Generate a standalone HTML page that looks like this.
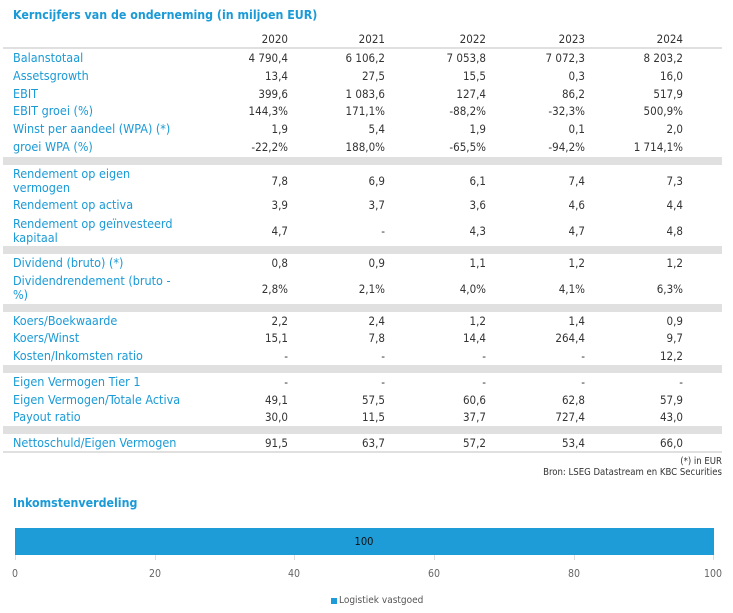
<!DOCTYPE html>
<html><head><meta charset="utf-8"><style>
body{margin:0;width:733px;height:613px;background:#fff;font-family:"DejaVu Sans Condensed","Liberation Sans Narrow","Liberation Sans",sans-serif;position:relative;overflow:hidden}
div{position:absolute;white-space:nowrap}
.t{color:#1a9ad6;font-weight:bold;font-size:12.3px}
.l{left:13px;color:#1a9ad6;font-size:12.5px;line-height:14px}
.v{color:#333;font-size:11.5px;text-align:right;width:90px}
.band{left:3px;width:719px;background:#e0e0e0}
.ax{color:#666;font-size:10.5px;width:40px;text-align:center;top:568px}
.g{top:528px;width:1px;height:32px;background:#ddd}
</style></head><body>
<div class="t" style="left:13px;top:8px">Kerncijfers van de onderneming (in miljoen EUR)</div>
<div class="v" style="left:198px;top:32px">2020</div><div class="v" style="left:295px;top:32px">2021</div><div class="v" style="left:396px;top:32px">2022</div><div class="v" style="left:495px;top:32px">2023</div><div class="v" style="left:593px;top:32px">2024</div>
<div class="band" style="top:47px;height:2px"></div>
<div class="l" style="top:51px">Balanstotaal</div><div class="v" style="left:198px;top:51px">4 790,4</div><div class="v" style="left:295px;top:51px">6 106,2</div><div class="v" style="left:396px;top:51px">7 053,8</div><div class="v" style="left:495px;top:51px">7 072,3</div><div class="v" style="left:593px;top:51px">8 203,2</div>
<div class="l" style="top:69px">Assetsgrowth</div><div class="v" style="left:198px;top:69px">13,4</div><div class="v" style="left:295px;top:69px">27,5</div><div class="v" style="left:396px;top:69px">15,5</div><div class="v" style="left:495px;top:69px">0,3</div><div class="v" style="left:593px;top:69px">16,0</div>
<div class="l" style="top:87px">EBIT</div><div class="v" style="left:198px;top:87px">399,6</div><div class="v" style="left:295px;top:87px">1 083,6</div><div class="v" style="left:396px;top:87px">127,4</div><div class="v" style="left:495px;top:87px">86,2</div><div class="v" style="left:593px;top:87px">517,9</div>
<div class="l" style="top:104px">EBIT groei (%)</div><div class="v" style="left:198px;top:104px">144,3%</div><div class="v" style="left:295px;top:104px">171,1%</div><div class="v" style="left:396px;top:104px">-88,2%</div><div class="v" style="left:495px;top:104px">-32,3%</div><div class="v" style="left:593px;top:104px">500,9%</div>
<div class="l" style="top:122px">Winst per aandeel (WPA) (*)</div><div class="v" style="left:198px;top:122px">1,9</div><div class="v" style="left:295px;top:122px">5,4</div><div class="v" style="left:396px;top:122px">1,9</div><div class="v" style="left:495px;top:122px">0,1</div><div class="v" style="left:593px;top:122px">2,0</div>
<div class="l" style="top:140px">groei WPA (%)</div><div class="v" style="left:198px;top:140px">-22,2%</div><div class="v" style="left:295px;top:140px">188,0%</div><div class="v" style="left:396px;top:140px">-65,5%</div><div class="v" style="left:495px;top:140px">-94,2%</div><div class="v" style="left:593px;top:140px">1 714,1%</div>
<div class="band" style="top:157px;height:8px"></div>
<div class="l" style="top:167px">Rendement op eigen<br>vermogen</div><div class="v" style="left:198px;top:174px">7,8</div><div class="v" style="left:295px;top:174px">6,9</div><div class="v" style="left:396px;top:174px">6,1</div><div class="v" style="left:495px;top:174px">7,4</div><div class="v" style="left:593px;top:174px">7,3</div>
<div class="l" style="top:198px">Rendement op activa</div><div class="v" style="left:198px;top:198px">3,9</div><div class="v" style="left:295px;top:198px">3,7</div><div class="v" style="left:396px;top:198px">3,6</div><div class="v" style="left:495px;top:198px">4,6</div><div class="v" style="left:593px;top:198px">4,4</div>
<div class="l" style="top:217px">Rendement op geïnvesteerd<br>kapitaal</div><div class="v" style="left:198px;top:224px">4,7</div><div class="v" style="left:295px;top:224px">-</div><div class="v" style="left:396px;top:224px">4,3</div><div class="v" style="left:495px;top:224px">4,7</div><div class="v" style="left:593px;top:224px">4,8</div>
<div class="band" style="top:246px;height:8px"></div>
<div class="l" style="top:256px">Dividend (bruto) (*)</div><div class="v" style="left:198px;top:256px">0,8</div><div class="v" style="left:295px;top:256px">0,9</div><div class="v" style="left:396px;top:256px">1,1</div><div class="v" style="left:495px;top:256px">1,2</div><div class="v" style="left:593px;top:256px">1,2</div>
<div class="l" style="top:274px">Dividendrendement (bruto -<br>%)</div><div class="v" style="left:198px;top:282px">2,8%</div><div class="v" style="left:295px;top:282px">2,1%</div><div class="v" style="left:396px;top:282px">4,0%</div><div class="v" style="left:495px;top:282px">4,1%</div><div class="v" style="left:593px;top:282px">6,3%</div>
<div class="band" style="top:304px;height:8px"></div>
<div class="l" style="top:314px">Koers/Boekwaarde</div><div class="v" style="left:198px;top:314px">2,2</div><div class="v" style="left:295px;top:314px">2,4</div><div class="v" style="left:396px;top:314px">1,2</div><div class="v" style="left:495px;top:314px">1,4</div><div class="v" style="left:593px;top:314px">0,9</div>
<div class="l" style="top:331px">Koers/Winst</div><div class="v" style="left:198px;top:331px">15,1</div><div class="v" style="left:295px;top:331px">7,8</div><div class="v" style="left:396px;top:331px">14,4</div><div class="v" style="left:495px;top:331px">264,4</div><div class="v" style="left:593px;top:331px">9,7</div>
<div class="l" style="top:349px">Kosten/Inkomsten ratio</div><div class="v" style="left:198px;top:349px">-</div><div class="v" style="left:295px;top:349px">-</div><div class="v" style="left:396px;top:349px">-</div><div class="v" style="left:495px;top:349px">-</div><div class="v" style="left:593px;top:349px">12,2</div>
<div class="band" style="top:365px;height:8px"></div>
<div class="l" style="top:375px">Eigen Vermogen Tier 1</div><div class="v" style="left:198px;top:375px">-</div><div class="v" style="left:295px;top:375px">-</div><div class="v" style="left:396px;top:375px">-</div><div class="v" style="left:495px;top:375px">-</div><div class="v" style="left:593px;top:375px">-</div>
<div class="l" style="top:393px">Eigen Vermogen/Totale Activa</div><div class="v" style="left:198px;top:393px">49,1</div><div class="v" style="left:295px;top:393px">57,5</div><div class="v" style="left:396px;top:393px">60,6</div><div class="v" style="left:495px;top:393px">62,8</div><div class="v" style="left:593px;top:393px">57,9</div>
<div class="l" style="top:410px">Payout ratio</div><div class="v" style="left:198px;top:410px">30,0</div><div class="v" style="left:295px;top:410px">11,5</div><div class="v" style="left:396px;top:410px">37,7</div><div class="v" style="left:495px;top:410px">727,4</div><div class="v" style="left:593px;top:410px">43,0</div>
<div class="band" style="top:426px;height:8px"></div>
<div class="l" style="top:436px">Nettoschuld/Eigen Vermogen</div><div class="v" style="left:198px;top:436px">91,5</div><div class="v" style="left:295px;top:436px">63,7</div><div class="v" style="left:396px;top:436px">57,2</div><div class="v" style="left:495px;top:436px">53,4</div><div class="v" style="left:593px;top:436px">66,0</div>
<div class="band" style="top:451px;height:2px"></div>
<div style="right:11px;top:456px;font-size:9.5px;color:#333">(*) in EUR</div>
<div style="right:11px;top:467px;font-size:9.5px;color:#333">Bron: LSEG Datastream en KBC Securities</div>
<div class="t" style="left:13px;top:496px">Inkomstenverdeling</div>
<div class="g" style="left:15px"></div><div class="g" style="left:155px"></div><div class="g" style="left:294px"></div><div class="g" style="left:434px"></div><div class="g" style="left:574px"></div><div class="g" style="left:713px"></div>
<div style="left:15px;top:528px;width:699px;height:27px;background:#1e9cd8"></div>
<div style="left:344px;top:535px;width:40px;text-align:center;font-size:11px;color:#111">100</div>
<div class="ax" style="left:-5px">0</div><div class="ax" style="left:135px">20</div><div class="ax" style="left:274px">40</div><div class="ax" style="left:414px">60</div><div class="ax" style="left:554px">80</div><div class="ax" style="left:693px">100</div>
<div style="left:331px;top:598px;width:6px;height:6px;background:#1e9cd8"></div>
<div style="left:339px;top:595px;font-size:10px;color:#555">Logistiek vastgoed</div>
</body></html>
